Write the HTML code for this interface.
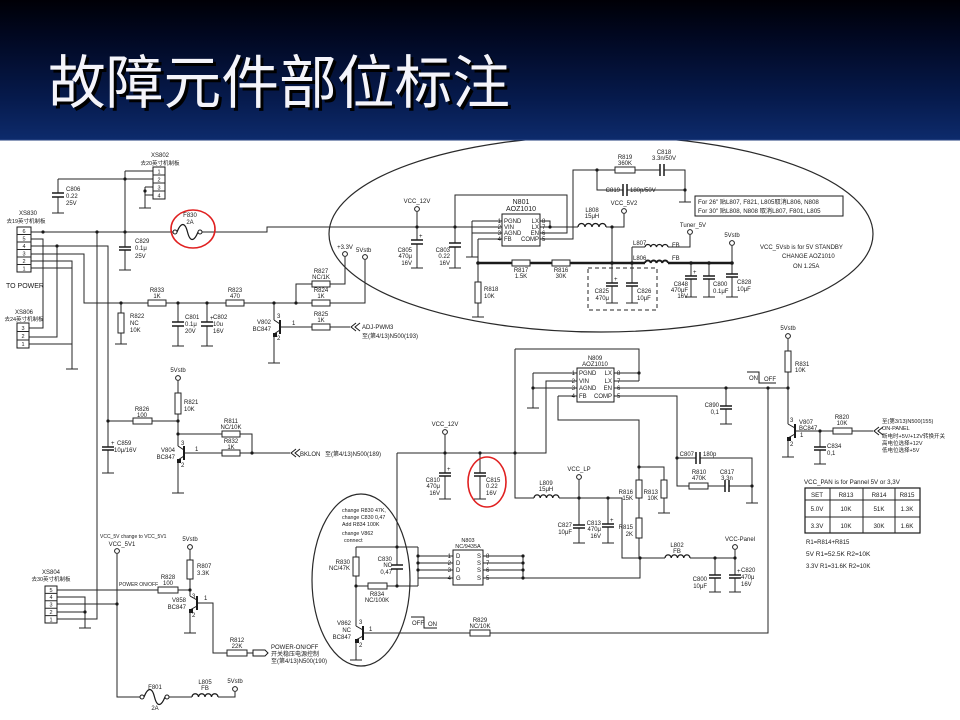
<!DOCTYPE html>
<html><head><meta charset="utf-8"><style>
html,body{margin:0;padding:0;background:#fff;}
svg{display:block;}
.t{font-family:"Liberation Sans","Noto Sans CJK SC",sans-serif;font-size:6px;fill:#1a1a1a;}
.m{text-anchor:middle;} .e{text-anchor:end;}
.w{stroke:#262626;stroke-width:1;fill:none;}
</style></head><body>
<svg width="960" height="720" viewBox="0 0 960 720" xmlns="http://www.w3.org/2000/svg">
<defs>
<linearGradient id="hg" x1="0" y1="0" x2="0" y2="1">
<stop offset="0" stop-color="#000006"/>
<stop offset="0.25" stop-color="#010720"/>
<stop offset="0.7" stop-color="#061a4c"/>
<stop offset="1" stop-color="#0d2b6c"/>
</linearGradient>
</defs>
<rect x="0" y="0" width="960" height="720" fill="#fff"/>

<!-- big ellipse & small ellipse -->
<ellipse cx="601" cy="234" rx="272" ry="98" fill="none" stroke="#2a2a2a" stroke-width="1.2"/>
<ellipse cx="361" cy="580" rx="49" ry="86" fill="none" stroke="#2a2a2a" stroke-width="1.2"/>

<!-- wires -->
<path class="w" d="
M125 171H153 M58 179H153 M58 179V193 M58 197V213
M145 187H153 M145 195H153 M145 187V208
M125 171V247 M125 250V270
M31 232H175 M200 232H267V227H502
M31 239H43V328H29
M31 246H108V447 M108 450V473
M57 246V337H29
M31 254H84V303H148 M166 303H226 M244 303H312 M330 303H365V260
M31 261H72V369 M31 268H72 M29 344H72
M97 232V619H57
M121 303V313 M121 333V344
M178 303V322 M178 326V346
M207 303V322 M207 326V346
M296 303V284H312 M330 284H345V257
M274 303V320 M274 334V363
M280 327H312 M330 327H350
M417 212V240 M417 244V268
M455 227V243 M455 247V268
M455 227V195H567V233H540
M472 221H502 M472 221V257 M472 233H502
M478 239H502 M478 239V263
M478 263V282 M478 303V317
M540 221H550V227 M540 227H578
M540 239H573V170H615 M635 170H660 M664 170H685V202
M597 170V190H623 M627 190H685
M606 227H624V214
M612 227V283 M612 286V303
M632 247V283 M632 286V303
M632 247H645 M668 247H690V235
M691 263V276 M691 279V297
M709 263V276 M709 279V297
M732 246V274 M732 277V297
M108 421H133 M152 421H178
M178 381V393 M178 414V446
M178 434H222 M240 434H252V453
M184 453H222 M240 453H290
M178 460V493
M397 453H546V381H577
M397 453V565 M397 569V586
M515 349H639V381 M614 373H639 M614 381H639
M515 349V498H534
M533 373H577 M533 373V408 M533 388H577
M558 396H577 M558 396V420H639V480 M639 498V518 M639 538V558
M639 467H664V480 M664 498V513
M614 388H788
M614 396H677V486H689 M677 458H696 M700 458H752V503 M708 486H725 M729 486H752
M726 388V406 M726 409V424
M445 435V473 M445 476V499
M480 453V473 M480 476V499
M559 498H622V558H665 M690 558H735V550
M579 480V525 M579 528V543
M608 498V524 M608 527V543
M715 558V575 M715 578V592
M735 558V575 M735 578V592
M418 547V586 M356 547H418 M356 547V557 M356 576V626 M356 586H368 M387 586H418
M418 556H453 M418 563H453 M418 570H453 M418 578H453
M483 556H523 M483 563H523 M483 570H523 M483 578H640V558
M523 556V578
M363 633H470 M490 633H768V388
M356 640V660
M788 339V351 M788 372V424
M795 431H833 M852 431H873
M820 431V447 M820 450V464
M788 438V457
M57 590H158 M178 590H190 M190 550V560 M190 579V596
M57 597H85V628 M57 612H85 M57 604H117
M117 554V697H142 M167 697H192 M218 697H235V692
M197 603H213V653H227 M247 653H253
M190 610V633
"/>
<!-- thick line -->
<path d="M478 263H732" stroke="#1a1a1a" stroke-width="2.6" fill="none"/>
<!-- dashed box -->
<rect x="588" y="268" width="69" height="42" fill="none" stroke="#262626" stroke-width="1" stroke-dasharray="4,3"/>

<!-- grounds -->
<path class="w" stroke-width="1.2" d="
M52 213h12 M139 208h12 M119 270h12 M66 369h12 M102 473h12 M115 344h12 M172 346h12 M201 346h12 M268 363h12 M172 493h12
M411 268h12 M449 268h12 M466 257h12 M472 317h12 M606 303h12 M626 303h12 M679 202h12 M685 297h12 M703 297h12 M726 297h12
M527 408h12 M658 513h12 M746 503h12 M720 424h12 M439 499h12 M474 499h12 M573 543h12 M602 543h12 M709 592h12 M729 592h12
M350 660h12 M782 457h12 M814 464h12 M79 628h12 M184 633h12"/>

<!-- capacitor plates -->
<path stroke="#1a1a1a" stroke-width="1.5" fill="none" d="
M52 193h12M52 197h12 M119 247h12M119 250h12 M102 447h12M102 450h12 M172 322h12M172 326h12 M201 322h12M201 326h12
M411 240h12M411 244h12 M449 243h12M449 247h12 M606 283h12M606 286h12 M626 283h12M626 286h12 M685 276h12M685 279h12
M703 276h12M703 279h12 M726 274h12M726 277h12 M720 406h12M720 409h12 M439 473h12M439 476h12 M474 473h12M474 476h12
M573 525h12M573 528h12 M602 524h12M602 527h12 M709 575h12M709 578h12 M729 575h12M729 578h12 M391 565h12M391 569h12 M814 447h12M814 450h12
M660 164v12M664 164v12 M623 184v12M627 184v12 M696 452v12M700 452v12 M725 480v12M729 480v12"/>
<g class="t">
<text x="111" y="445">+</text><text x="210" y="320">+</text><text x="419" y="238">+</text><text x="614" y="281">+</text><text x="693" y="274">+</text>
<text x="447" y="471">+</text><text x="610" y="522">+</text><text x="737" y="573">+</text>
</g>

<!-- resistors -->
<g fill="#fff" stroke="#262626" stroke-width="1">
<rect x="148" y="300" width="18" height="6"/><rect x="226" y="300" width="18" height="6"/>
<rect x="312" y="281" width="18" height="6"/><rect x="312" y="300" width="18" height="6"/><rect x="312" y="324" width="18" height="6"/>
<rect x="512" y="260" width="18" height="6"/><rect x="552" y="260" width="18" height="6"/><rect x="615" y="167" width="20" height="6"/>
<rect x="133" y="418" width="19" height="6"/><rect x="222" y="431" width="18" height="6"/><rect x="222" y="450" width="18" height="6"/>
<rect x="689" y="483" width="19" height="6"/><rect x="368" y="583" width="19" height="6"/><rect x="470" y="630" width="20" height="6"/>
<rect x="833" y="428" width="19" height="6"/><rect x="158" y="587" width="20" height="6"/><rect x="227" y="650" width="20" height="6"/>
<rect x="118" y="313" width="6" height="20"/><rect x="475" y="282" width="6" height="21"/><rect x="175" y="393" width="6" height="21"/>
<rect x="636" y="480" width="6" height="18"/><rect x="661" y="480" width="6" height="18"/><rect x="636" y="518" width="6" height="20"/>
<rect x="353" y="557" width="6" height="19"/><rect x="785" y="351" width="6" height="21"/><rect x="187" y="560" width="6" height="19"/>
</g>

<!-- inductors -->
<rect x="645" y="260" width="23" height="6" fill="#fff"/>
<path fill="none" stroke="#1a1a1a" stroke-width="1.3" d="
M578 227a3.5 3.5 0 0 1 7 0a3.5 3.5 0 0 1 7 0a3.5 3.5 0 0 1 7 0a3.5 3.5 0 0 1 7 0
M645 247a2.9 2.9 0 0 1 5.75 0a2.9 2.9 0 0 1 5.75 0a2.9 2.9 0 0 1 5.75 0a2.9 2.9 0 0 1 5.75 0
M534 498a3.1 3.1 0 0 1 6.25 0a3.1 3.1 0 0 1 6.25 0a3.1 3.1 0 0 1 6.25 0a3.1 3.1 0 0 1 6.25 0
M665 558a3.1 3.1 0 0 1 6.25 0a3.1 3.1 0 0 1 6.25 0a3.1 3.1 0 0 1 6.25 0a3.1 3.1 0 0 1 6.25 0
M192 697a3.25 3.25 0 0 1 6.5 0a3.25 3.25 0 0 1 6.5 0a3.25 3.25 0 0 1 6.5 0a3.25 3.25 0 0 1 6.5 0"/>
<path fill="none" stroke="#1a1a1a" stroke-width="2" d="M645 263a2.9 2.9 0 0 1 5.75 0a2.9 2.9 0 0 1 5.75 0a2.9 2.9 0 0 1 5.75 0a2.9 2.9 0 0 1 5.75 0"/>

<!-- fuses -->
<path fill="none" stroke="#1a1a1a" stroke-width="1.2" d="M177 232C181 222 185 222 187.5 232C190 242 194 242 198 232 M144 697C148 687 152 687 154.5 697C157 707 161 707 165 697"/>
<g fill="#fff" stroke="#1a1a1a" stroke-width="1"><circle cx="175" cy="232" r="2"/><circle cx="200" cy="232" r="2"/><circle cx="142" cy="697" r="2"/><circle cx="167" cy="697" r="2"/></g>

<!-- transistors -->
<path fill="none" stroke="#1a1a1a" stroke-width="1" d="
M274 320L280 324 M280 330L274 334
M178 446L184 450 M184 456L178 460
M190 596L197 600 M197 606L190 610
M356 626L363 630 M363 636L356 640
M788 424L795 428 M795 434L788 438"/>
<path fill="none" stroke="#1a1a1a" stroke-width="2" d="M280 320V334 M184 446V460 M197 596V610 M363 626V640 M795 424V438"/>
<g fill="#1a1a1a"><rect x="273" y="333" width="4" height="4"/><rect x="177" y="459" width="4" height="4"/><rect x="189" y="609" width="4" height="4"/><rect x="355" y="639" width="4" height="4"/><rect x="787" y="437" width="4" height="4"/></g>

<!-- ICs -->
<g fill="#fff" stroke="#1a1a1a" stroke-width="1">
<rect x="502" y="214" width="38" height="32"/>
<rect x="577" y="368" width="37" height="34"/>
<rect x="453" y="550" width="30" height="35"/>
<rect x="153" y="167" width="12" height="32"/>
<rect x="17" y="227" width="14" height="45"/>
<rect x="17" y="323" width="12" height="25"/>
<rect x="45" y="586" width="12" height="37"/>
</g>
<path class="w" d="M153 175h12M153 183h12M153 191h12 M17 234.5h14M17 242h14M17 249.5h14M17 257h14M17 264.5h14 M17 331.5h12M17 340h12 M45 593.4h12M45 600.8h12M45 608.2h12M45 615.6h12"/>

<!-- terminals -->
<g fill="#fff" stroke="#1a1a1a" stroke-width="1">
<circle cx="345" cy="254" r="2.4"/><circle cx="365" cy="257" r="2.4"/><circle cx="417" cy="209" r="2.4"/><circle cx="624" cy="211" r="2.4"/>
<circle cx="690" cy="232" r="2.4"/><circle cx="732" cy="243" r="2.4"/><circle cx="178" cy="378" r="2.4"/><circle cx="445" cy="432" r="2.4"/>
<circle cx="579" cy="477" r="2.4"/><circle cx="735" cy="547" r="2.4"/><circle cx="788" cy="336" r="2.4"/><circle cx="117" cy="551" r="2.4"/>
<circle cx="190" cy="547" r="2.4"/><circle cx="235" cy="689" r="2.4"/>
</g>
<!-- dots -->
<g fill="#1a1a1a">
<circle cx="125" cy="179" r="1.6"/><circle cx="125" cy="232" r="1.6"/><circle cx="43" cy="232" r="1.6"/><circle cx="97" cy="232" r="1.6"/><circle cx="57" cy="246" r="1.6"/><circle cx="145" cy="191" r="1.6"/>
<circle cx="121" cy="303" r="1.6"/><circle cx="178" cy="303" r="1.6"/><circle cx="207" cy="303" r="1.6"/><circle cx="274" cy="303" r="1.6"/><circle cx="296" cy="303" r="1.6"/>
<circle cx="417" cy="227" r="1.6"/><circle cx="455" cy="227" r="1.6"/><circle cx="550" cy="227" r="1.6"/><circle cx="612" cy="227" r="1.6"/><circle cx="612" cy="263" r="1.8"/><circle cx="632" cy="263" r="1.8"/>
<circle cx="478" cy="263" r="1.8"/><circle cx="691" cy="263" r="1.8"/><circle cx="709" cy="263" r="1.8"/><circle cx="732" cy="263" r="1.8"/><circle cx="597" cy="170" r="1.6"/><circle cx="685" cy="190" r="1.6"/>
<circle cx="108" cy="421" r="1.6"/><circle cx="178" cy="421" r="1.6"/><circle cx="178" cy="434" r="1.6"/><circle cx="252" cy="453" r="1.6"/>
<circle cx="445" cy="453" r="1.6"/><circle cx="480" cy="453" r="1.6"/><circle cx="515" cy="453" r="1.6"/><circle cx="533" cy="388" r="1.6"/><circle cx="639" cy="373" r="1.6"/>
<circle cx="639" cy="467" r="1.6"/><circle cx="677" cy="458" r="1.6"/><circle cx="752" cy="486" r="1.6"/><circle cx="726" cy="388" r="1.6"/><circle cx="768" cy="388" r="1.6"/><circle cx="788" cy="388" r="1.6"/>
<circle cx="579" cy="498" r="1.6"/><circle cx="608" cy="498" r="1.6"/><circle cx="640" cy="558" r="1.6"/><circle cx="715" cy="558" r="1.6"/><circle cx="735" cy="558" r="1.6"/>
<circle cx="397" cy="547" r="1.6"/><circle cx="397" cy="586" r="1.6"/><circle cx="356" cy="586" r="1.6"/>
<circle cx="523" cy="556" r="1.6"/><circle cx="523" cy="563" r="1.6"/><circle cx="523" cy="570" r="1.6"/><circle cx="523" cy="578" r="1.6"/>
<circle cx="418" cy="556" r="1.6"/><circle cx="418" cy="563" r="1.6"/><circle cx="418" cy="570" r="1.6"/>
<circle cx="820" cy="431" r="1.6"/><circle cx="190" cy="590" r="1.6"/><circle cx="85" cy="612" r="1.6"/><circle cx="117" cy="604" r="1.6"/>
</g>

<!-- arrows / connectors -->
<path fill="none" stroke="#1a1a1a" stroke-width="1" d="M356 323L351 327L356 331M360 323L355 327L360 331 M296 449L291 453L296 457M300 449L295 453L300 457 M879 427L874 431L879 435M883 427L878 431L883 435 M253 650H265L268 653L265 656H253Z"/>
<!-- ON/OFF steps -->
<path fill="none" stroke="#1a1a1a" stroke-width="1" d="M747 372H759V383H776 M411 617H424V628H437"/>

<!-- red circles -->
<ellipse cx="193" cy="229" rx="22" ry="19" fill="none" stroke="#e02020" stroke-width="1.6"/>
<ellipse cx="487" cy="482" rx="19" ry="25" fill="none" stroke="#e02020" stroke-width="1.6"/>

<!-- text box & table -->
<rect x="695" y="196" width="148" height="20" fill="none" stroke="#1a1a1a" stroke-width="1"/>
<rect x="805" y="488" width="115" height="45" fill="none" stroke="#1a1a1a" stroke-width="1.2"/>
<path class="w" stroke-width="1.2" d="M805 500H920M805 517H920M830 488V533M863 488V533M895 488V533"/>

<!-- labels -->
<g class="t">
<text class="m" x="160" y="157">XS802</text><text class="m" x="160" y="165" style="font-size:5.5px">去20英寸机制板</text>
<g class="m" style="font-size:5.5px"><text x="159" y="173.5">1</text><text x="159" y="181.5">2</text><text x="159" y="189.5">3</text><text x="159" y="197.5">4</text>
<text x="24" y="233">6</text><text x="24" y="240.5">5</text><text x="24" y="248">4</text><text x="24" y="255.5">3</text><text x="24" y="263">2</text><text x="24" y="270.5">1</text>
<text x="23" y="330">3</text><text x="23" y="338">2</text><text x="23" y="346">1</text>
<text x="51" y="592">5</text><text x="51" y="599">4</text><text x="51" y="606.5">3</text><text x="51" y="614">2</text><text x="51" y="621.5">1</text></g>
<text x="66" y="191">C806</text><text x="66" y="198">0.22</text><text x="66" y="205">25V</text>
<text class="m" x="28" y="215">XS830</text><text class="m" x="26" y="223" style="font-size:5.5px">去19英寸机制板</text>
<text x="6" y="288" style="font-size:7px">TO POWER</text>
<text class="m" x="24" y="314">XS806</text><text class="m" x="24" y="321" style="font-size:5.5px">去24英寸机制板</text>
<text x="135" y="243">C829</text><text x="135" y="250">0.1μ</text><text x="135" y="258">25V</text>
<text class="m" x="190" y="217">F830</text><text class="m" x="190" y="224">2A</text>
<text x="130" y="318">R822</text><text x="130" y="325">NC</text><text x="130" y="332">10K</text>
<text class="m" x="157" y="292">R833</text><text class="m" x="157" y="298">1K</text>
<text x="185" y="319">C801</text><text x="185" y="326">0.1μ</text><text x="185" y="333">20V</text>
<text x="213" y="319">C802</text><text x="213" y="326">10u</text><text x="213" y="333">16V</text>
<text class="m" x="235" y="292">R823</text><text class="m" x="235" y="298">470</text>
<text class="e" x="271" y="324">V802</text><text class="e" x="271" y="331">BC847</text>
<text x="277" y="318">3</text><text x="292" y="325">1</text><text x="277" y="340">2</text>
<text class="m" x="321" y="273">R827</text><text class="m" x="321" y="279">NC/1K</text>
<text class="m" x="321" y="292">R824</text><text class="m" x="321" y="298">1K</text>
<text class="m" x="321" y="316">R825</text><text class="m" x="321" y="322">1K</text>
<text class="m" x="345" y="249">+3.3V</text><text x="356" y="252">5Vstb</text>
<text x="362" y="329">ADJ-PWM3</text><text x="362" y="338">至(第4/13)N500(193)</text>

<text class="m" x="417" y="203">VCC_12V</text>
<text class="e" x="412" y="252">C805</text><text class="e" x="412" y="258">470μ</text><text class="e" x="412" y="265">16V</text>
<text class="e" x="450" y="252">C803</text><text class="e" x="450" y="258">0.22</text><text class="e" x="450" y="265">16V</text>
<text class="m" x="521" y="204" style="font-size:7px">N801</text><text class="m" x="521" y="211" style="font-size:7px">AOZ1010</text>
<text class="e" x="501" y="223">1</text><text class="e" x="501" y="229">2</text><text class="e" x="501" y="235">3</text><text class="e" x="501" y="241">4</text>
<text x="504" y="223">PGND</text><text x="504" y="229">VIN</text><text x="504" y="235">AGND</text><text x="504" y="241">FB</text>
<text class="e" x="539" y="223">LX</text><text class="e" x="539" y="229">LX</text><text class="e" x="539" y="235">EN</text><text class="e" x="539" y="241">COMP</text>
<text x="542" y="223">8</text><text x="542" y="229">7</text><text x="542" y="235">6</text><text x="542" y="241">5</text>
<text class="m" x="625" y="159">R819</text><text class="m" x="625" y="165">360K</text>
<text class="m" x="664" y="154">C818</text><text class="m" x="664" y="160">3.3n/50V</text>
<text class="e" x="620" y="192">C819</text><text x="630" y="192">180p/50V</text>
<text class="m" x="592" y="212">L808</text><text class="m" x="592" y="218">15μH</text>
<text class="m" x="624" y="205">VCC_5V2</text>
<text class="m" x="521" y="272">R817</text><text class="m" x="521" y="278">1.5K</text>
<text class="m" x="561" y="272">R816</text><text class="m" x="561" y="278">30K</text>
<text x="484" y="291">R818</text><text x="484" y="298">10K</text>
<text class="e" x="609" y="293">C825</text><text class="e" x="609" y="300">470μ</text>
<text x="637" y="293">C826</text><text x="637" y="300">10μF</text>
<text x="633" y="245">L807</text><text x="672" y="247">FB</text>
<text x="633" y="260">L806</text><text x="672" y="260">FB</text>
<text class="m" x="693" y="227">Tuner_5V</text><text class="m" x="732" y="237">5Vstb</text>
<text class="e" x="688" y="286">C848</text><text class="e" x="688" y="292">470μF</text><text class="e" x="688" y="298">16V</text>
<text x="713" y="286">C800</text><text x="713" y="293">0.1μF</text>
<text x="737" y="284">C828</text><text x="737" y="291">10μF</text>
<text x="698" y="204" style="font-size:6.2px">For 26" 贴L807, F821, L805取消L806, N808</text>
<text x="698" y="213" style="font-size:6.2px">For 30" 贴L808, N808 取消L807, F801, L805</text>
<text x="760" y="249">VCC_5Vsb is for  5V STANDBY</text>
<text x="782" y="258">CHANGE AOZ1010</text>
<text x="793" y="268">ON 1.25A</text>

<text class="m" x="178" y="372">5Vstb</text>
<text x="184" y="404">R821</text><text x="184" y="411">10K</text>
<text class="m" x="142" y="411">R826</text><text class="m" x="142" y="417">100</text>
<text x="117" y="445">C859</text><text x="114" y="452">10μ/16V</text>
<text class="m" x="231" y="423">R811</text><text class="m" x="231" y="429">NC/10K</text>
<text class="m" x="231" y="443">R832</text><text class="m" x="231" y="449">1K</text>
<text class="e" x="175" y="452">V804</text><text class="e" x="175" y="459">BC847</text>
<text x="181" y="445">3</text><text x="195" y="451">1</text><text x="181" y="467">2</text>
<text x="300" y="456">BKLON</text><text x="325" y="456">至(第4/13)N500(189)</text>

<text class="m" x="445" y="426">VCC_12V</text>
<text class="e" x="440" y="482">C810</text><text class="e" x="440" y="488">470μ</text><text class="e" x="440" y="495">16V</text>
<text x="486" y="482">C815</text><text x="486" y="488">0.22</text><text x="486" y="495">16V</text>
<text class="m" x="595" y="360">N809</text><text class="m" x="595" y="366">AOZ1010</text>
<text class="e" x="575" y="375">1</text><text class="e" x="575" y="383">2</text><text class="e" x="575" y="390">3</text><text class="e" x="575" y="398">4</text>
<text x="579" y="375">PGND</text><text x="579" y="383">VIN</text><text x="579" y="390">AGND</text><text x="579" y="398">FB</text>
<text class="e" x="612" y="375">LX</text><text class="e" x="612" y="383">LX</text><text class="e" x="612" y="390">EN</text><text class="e" x="612" y="398">COMP</text>
<text x="617" y="375">8</text><text x="617" y="383">7</text><text x="617" y="390">6</text><text x="617" y="398">5</text>
<text class="e" x="719" y="407">C890</text><text class="e" x="719" y="414">0,1</text>
<text class="e" x="694" y="456">C807</text><text x="703" y="456">180p</text>
<text class="m" x="699" y="474">R810</text><text class="m" x="699" y="480">470K</text>
<text class="m" x="727" y="474">C817</text><text class="m" x="727" y="480">3,3n</text>
<text class="e" x="633" y="494">R816</text><text class="e" x="633" y="500">15K</text>
<text class="e" x="658" y="494">R813</text><text class="e" x="658" y="500">10K</text>
<text class="e" x="633" y="529">R815</text><text class="e" x="633" y="536">2K</text>
<text class="m" x="546" y="485">L809</text><text class="m" x="546" y="491">15μH</text>
<text class="m" x="579" y="471">VCC_LP</text>
<text class="e" x="572" y="527">C827</text><text class="e" x="572" y="534">10μF</text>
<text class="e" x="601" y="525">C813</text><text class="e" x="601" y="531">470μ</text><text class="e" x="601" y="538">16V</text>
<text class="m" x="677" y="547">L802</text><text class="m" x="677" y="553">FB</text>
<text x="725" y="541">VCC-Panel</text>
<text class="e" x="707" y="581">C800</text><text class="e" x="707" y="588">10μF</text>
<text x="741" y="572">C820</text><text x="741" y="579">470μ</text><text x="741" y="586">16V</text>
<text class="m" x="468" y="542" style="font-size:5.5px">N803</text><text class="m" x="468" y="548" style="font-size:5.5px">NC/9435A</text>
<text class="e" x="451" y="558">1</text><text class="e" x="451" y="565">2</text><text class="e" x="451" y="572">3</text><text class="e" x="451" y="580">4</text>
<text x="456" y="558">D</text><text x="456" y="565">D</text><text x="456" y="572">D</text><text x="456" y="580">G</text>
<text class="e" x="481" y="558">S</text><text class="e" x="481" y="565">S</text><text class="e" x="481" y="572">S</text><text class="e" x="481" y="580">S</text>
<text x="486" y="558">8</text><text x="486" y="565">7</text><text x="486" y="572">6</text><text x="486" y="580">5</text>
<g style="font-size:5.3px"><text x="342" y="512">change R830 47K,</text><text x="342" y="519">change C830 0,47</text><text x="342" y="526">Add R834 100K</text><text x="342" y="535">change V862</text><text x="344" y="542">connect</text></g>
<text class="e" x="350" y="564">R830</text><text class="e" x="350" y="570">NC/47K</text>
<text class="e" x="392" y="561">C830</text><text class="e" x="392" y="567">NC</text><text class="e" x="392" y="574">0,47</text>
<text class="m" x="377" y="596">R834</text><text class="m" x="377" y="602">NC/100K</text>
<text class="e" x="351" y="625">V862</text><text class="e" x="351" y="632">NC</text><text class="e" x="351" y="639">BC847</text>
<text x="359" y="624">3</text><text x="369" y="631">1</text><text x="359" y="647">2</text>
<text x="412" y="625">OFF</text><text x="428" y="626">ON</text>
<text class="m" x="480" y="622">R829</text><text class="m" x="480" y="628">NC/10K</text>

<text class="m" x="788" y="330">5Vstb</text>
<text x="795" y="366">R831</text><text x="795" y="372">10K</text>
<text x="749" y="380">ON</text><text x="764" y="381">OFF</text>
<text x="799" y="424">V807</text><text x="799" y="430">BC847</text>
<text x="790" y="422">3</text><text x="800" y="437">1</text><text x="790" y="446">2</text>
<text class="m" x="842" y="419">R820</text><text class="m" x="842" y="425">10K</text>
<text x="827" y="448">C834</text><text x="827" y="455">0,1</text>
<g style="font-size:5.5px"><text x="882" y="423">至(第3/13)N500(155)</text><text x="882" y="430">ON-PANEL</text><text x="882" y="438">断电时+5V/+12V转换开关</text><text x="882" y="445">高电位选择+12V</text><text x="882" y="452">低电位选择+5V</text></g>

<text x="804" y="484" style="font-size:6.2px">VCC_PAN is for Pannel 5V or 3,3V</text>
<g class="m" style="font-size:6.2px">
<text x="817" y="497">SET</text><text x="846" y="497">R813</text><text x="879" y="497">R814</text><text x="907" y="497">R815</text>
<text x="817" y="511">5.0V</text><text x="846" y="511">10K</text><text x="879" y="511">51K</text><text x="907" y="511">1.3K</text>
<text x="817" y="528">3.3V</text><text x="846" y="528">10K</text><text x="879" y="528">30K</text><text x="907" y="528">1.6K</text>
</g>
<text x="806" y="544">R1=R814+R815</text>
<text x="806" y="556" style="font-size:6.5px">5V R1=52.5K  R2=10K</text>
<text x="806" y="568">3.3V R1=31.6K  R2=10K</text>

<text x="100" y="538" style="font-size:5px">VCC_5V change to VCC_5V1</text>
<text class="m" x="122" y="546">VCC_5V1</text>
<text class="m" x="51" y="574">XS804</text><text class="m" x="51" y="581" style="font-size:5.5px">去30英寸机制板</text>
<text x="119" y="586" style="font-size:5px">POWER ON/OFF</text>
<text class="m" x="168" y="579">R828</text><text class="m" x="168" y="585">100</text>
<text class="m" x="190" y="541">5Vstb</text>
<text x="197" y="568">R807</text><text x="197" y="575">3.3K</text>
<text class="e" x="186" y="602">V858</text><text class="e" x="186" y="609">BC847</text>
<text x="192" y="598">3</text><text x="204" y="600">1</text><text x="192" y="617">2</text>
<text class="m" x="237" y="642">R812</text><text class="m" x="237" y="648">22K</text>
<text x="271" y="649">POWER-ON/OFF</text><text x="271" y="656">开关稳压电源控制</text><text x="271" y="663">至(第4/13)N500(190)</text>
<text class="m" x="155" y="689">F801</text><text class="m" x="155" y="710">2A</text>
<text class="m" x="205" y="684">L805</text><text class="m" x="205" y="690">FB</text>
<text class="m" x="235" y="683">5Vstb</text>
</g>

<!-- header -->
<rect x="0" y="0" width="960" height="140" fill="url(#hg)"/>
<rect x="0" y="139" width="960" height="1.5" fill="#1d3a7a"/>
<text x="51" y="106" textLength="462" lengthAdjust="spacingAndGlyphs" style="font-family:'Liberation Sans','Noto Sans CJK SC',sans-serif;font-size:58px;fill:#000;">故障元件部位标注</text>
<text x="48" y="103" textLength="462" lengthAdjust="spacingAndGlyphs" style="font-family:'Liberation Sans','Noto Sans CJK SC',sans-serif;font-size:58px;fill:#f4f4fa;">故障元件部位标注</text>
</svg>
</body></html>
